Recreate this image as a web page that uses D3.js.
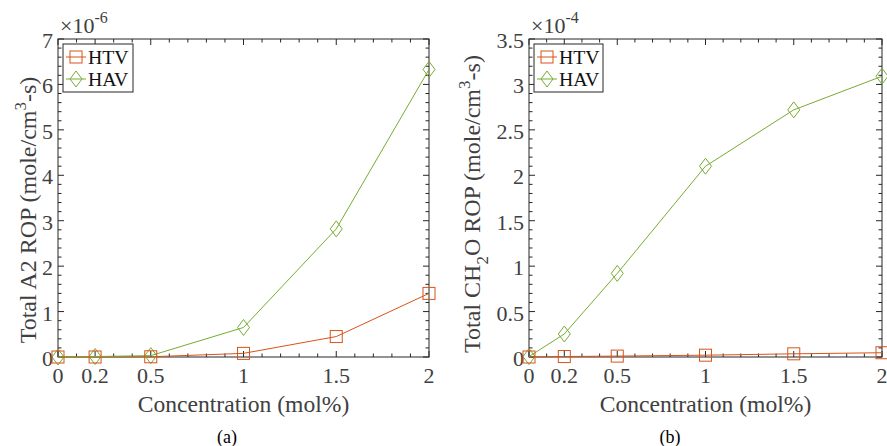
<!DOCTYPE html>
<html><head><meta charset="utf-8">
<script src="https://cdn.jsdelivr.net/npm/d3@7"></script>
<style>body{margin:0;background:#fff}svg{display:block}</style>
</head><body><svg id="c" width="887" height="446"></svg>
<script>
const concentrations = [0, 0.2, 0.5, 1, 1.5, 2];
const xTickLabels = ["0", "0.2", "0.5", "1", "1.5", "2"];
const a2HTV = [0, 0, 0.005, 0.08, 0.45, 1.40];
const a2HAV = [0, 0.01, 0.03, 0.65, 2.82, 6.33];
const ch2oHTV = [0, 0.005, 0.01, 0.02, 0.035, 0.047];
const ch2oHAV = [0.005, 0.253, 0.92, 2.10, 2.72, 3.09];
const a2YTicks = [0, 1, 2, 3, 4, 5, 6, 7];
const ch2oYTicks = [0, 0.5, 1, 1.5, 2, 2.5, 3, 3.5];
const seriesNames = ["HTV", "HAV"];

const C_HTV = "#D95319", C_HAV = "#77AC30", AX = "#262626", TXT = "#404040";
const FONT = "Liberation Serif";
const svg = d3.select("#c");
function txt(g) {
  return g.append("text").attr("font-family", FONT).attr("fill", TXT);
}

function panel(opt) {
  const {x0, x1, y0, y1, ymax, yTicks, yMinorStep, htv, hav, exp, ytitle, cap, ytx, yty} = opt;
  const x = d3.scaleLinear().domain([0, 2]).range([x0, x1]);
  const y = d3.scaleLinear().domain([0, ymax]).range([y1, y0]);
  const g = svg.append("g");
  g.append("rect").attr("x", x0).attr("y", y0).attr("width", x1 - x0).attr("height", y1 - y0)
    .attr("fill", "none").attr("stroke", AX).attr("stroke-width", 1);
  const xMinor = d3.range(0, 2.0001, 0.1).filter(v => !concentrations.some(c => Math.abs(c - v) < 1e-6));
  const drawX = (vals, len) => vals.forEach(v => {
    g.append("line").attr("x1", x(v)).attr("x2", x(v)).attr("y1", y1).attr("y2", y1 - len).attr("stroke", AX);
    g.append("line").attr("x1", x(v)).attr("x2", x(v)).attr("y1", y0).attr("y2", y0 + len).attr("stroke", AX);
  });
  drawX(concentrations, 6); drawX(xMinor, 3.5);
  const yMinor = d3.range(0, ymax + 1e-9, yMinorStep).filter(v => !yTicks.some(t => Math.abs(t - v) < 1e-6));
  const drawY = (vals, len) => vals.forEach(v => {
    g.append("line").attr("y1", y(v)).attr("y2", y(v)).attr("x1", x0).attr("x2", x0 + len).attr("stroke", AX);
    g.append("line").attr("y1", y(v)).attr("y2", y(v)).attr("x1", x1).attr("x2", x1 - len).attr("stroke", AX);
  });
  drawY(yTicks, 6); drawY(yMinor, 3.5);
  concentrations.forEach((c, i) => txt(g).attr("x", x(c)).attr("y", y1 + 26)
    .attr("text-anchor", "middle").attr("font-size", 22).text(xTickLabels[i]));
  yTicks.forEach(t => txt(g).attr("x", x0 - 5).attr("y", y(t) + 9)
    .attr("text-anchor", "end").attr("font-size", 22).text(String(t)));
  const e = txt(g).attr("x", x0 + 2).attr("y", y0 - 6).attr("font-size", 22);
  e.append("tspan").text("×10");
  e.append("tspan").attr("dy", -10).attr("font-size", 16).text(exp);
  txt(g).attr("x", (x0 + x1) / 2).attr("y", y1 + 55).attr("text-anchor", "middle")
    .attr("font-size", 23.6).text("Concentration (mol%)");
  const yt = txt(g).attr("transform", `translate(${ytx},${yty}) rotate(-90)`)
    .attr("text-anchor", "middle").attr("font-size", 24);
  ytitle(yt);
  txt(g).attr("x", opt.capx).attr("y", 443).attr("text-anchor", "middle")
    .attr("font-size", 18).attr("fill", "#000").text(cap);
  const line = d3.line().x((d, i) => x(concentrations[i])).y(d => y(d));
  g.append("path").datum(htv).attr("d", line).attr("fill", "none").attr("stroke", C_HTV).attr("stroke-width", 1);
  g.append("path").datum(hav).attr("d", line).attr("fill", "none").attr("stroke", C_HAV).attr("stroke-width", 1);
  const sq = (gg, cx, cy) => gg.append("rect").attr("x", cx - 6).attr("y", cy - 6).attr("width", 12).attr("height", 12)
    .attr("fill", "none").attr("stroke", C_HTV).attr("stroke-width", 1);
  const di = (gg, cx, cy) => gg.append("path").attr("d", `M${cx},${cy - 8}L${cx + 6},${cy}L${cx},${cy + 8}L${cx - 6},${cy}Z`)
    .attr("fill", "none").attr("stroke", C_HAV).attr("stroke-width", 1);
  hav.forEach((v, i) => di(g, x(concentrations[i]), y(v)));
  htv.forEach((v, i) => sq(g, x(concentrations[i]), y(v)));
  const lx = x0 + 5, ly = y0 + 5;
  g.append("rect").attr("x", lx).attr("y", ly).attr("width", opt.legW).attr("height", 48)
    .attr("fill", "#fff").attr("stroke", AX).attr("stroke-width", 1);
  [[C_HTV, sq], [C_HAV, di]].forEach(([col, mk], i) => {
    const cy = ly + 13 + i * 22;
    g.append("line").attr("x1", lx + 3).attr("x2", lx + 23).attr("y1", cy).attr("y2", cy).attr("stroke", col);
    mk(g, lx + 13, cy);
    txt(g).attr("x", lx + 25).attr("y", cy + 7).attr("font-size", 19.8).attr("fill", "#111").text(seriesNames[i]);
  });
}

panel({x0: 58, x1: 429, y0: 39, y1: 357, ymax: 7, yTicks: a2YTicks, yMinorStep: 0.2,
  htv: a2HTV, hav: a2HAV, exp: "-6", cap: "(a)", capx: 227, ytx: 36, yty: 210, legW: 70,
  ytitle: t => { t.append("tspan").text("Total A2 ROP (mole/cm");
    t.append("tspan").attr("dy", -10).attr("font-size", 17).text("3");
    t.append("tspan").attr("dy", 10).text("-s)"); }});
panel({x0: 529, x1: 882, y0: 39, y1: 357, ymax: 3.5, yTicks: ch2oYTicks, yMinorStep: 0.1,
  htv: ch2oHTV, hav: ch2oHAV, exp: "-4", cap: "(b)", capx: 670, ytx: 480, yty: 204, legW: 69,
  ytitle: t => { t.append("tspan").text("Total CH");
    t.append("tspan").attr("dy", 8).attr("font-size", 17).text("2");
    t.append("tspan").attr("dy", -8).text("O ROP (mole/cm");
    t.append("tspan").attr("dy", -10).attr("font-size", 17).text("3");
    t.append("tspan").attr("dy", 10).text("-s)"); }});
</script></body></html>
